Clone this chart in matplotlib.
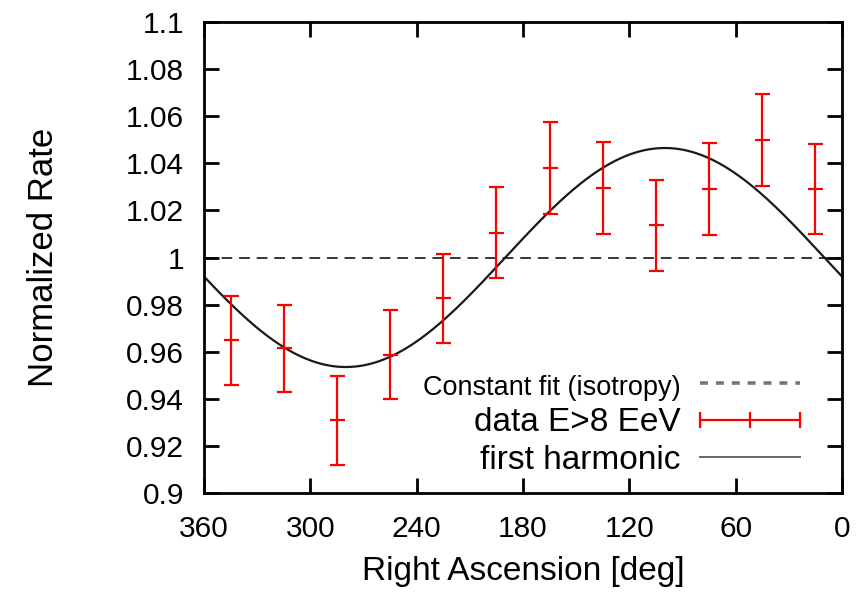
import numpy as np
from matplotlib import pyplot as plt
from matplotlib.lines import Line2D
from matplotlib.ticker import FormatStrFormatter, MultipleLocator

plt.rcParams['font.family'] = ['Liberation Sans', 'DejaVu Sans']

# Right ascension bin centres [deg] and normalized rates
ra_bins = [345, 315, 285, 255, 225, 195, 165, 135, 105, 75, 45, 15]
rate = [0.9648, 0.9614, 0.9308, 0.9588, 0.9826, 1.0106,
        1.0380, 1.0296, 1.0136, 1.0292, 1.0500, 1.0290]
rate_err = [0.0190, 0.0185, 0.0190, 0.0190, 0.0190, 0.0192,
            0.0195, 0.0195, 0.0195, 0.0195, 0.0195, 0.0192]

# first harmonic fit parameters
harmonic_amplitude = 0.0465
harmonic_phase = 100.0

isotropy_level = 1.0

fig = plt.figure(figsize=(8.58, 6.03), dpi=100)
ax = fig.add_axes([0.2378, 0.1824, 0.7436, 0.7811])

# constant fit
ax.axhline(isotropy_level, color='black', lw=1.1, dashes=(7, 4.5), zorder=1)

# first harmonic curve
alpha = np.linspace(0, 360, 721)
ax.plot(alpha, isotropy_level + harmonic_amplitude * np.cos(np.deg2rad(alpha - harmonic_phase)),
        color='#1a1a1a', lw=1.6, zorder=2)

# data with error bars
ax.errorbar(ra_bins, rate, yerr=rate_err, fmt='none', ecolor='#ff0000',
            elinewidth=1.6, capsize=5.4, capthick=1.6, zorder=3)
ax.plot(ra_bins, rate, ls='none', marker='_', ms=10.8, mew=1.6,
        color='#ff0000', zorder=3)

ax.set_xlim(360, 0)
ax.set_ylim(0.9, 1.1)
ax.xaxis.set_major_locator(MultipleLocator(60))
ax.yaxis.set_major_locator(MultipleLocator(0.02))
ax.yaxis.set_major_formatter(FormatStrFormatter('%g'))

for s in ax.spines.values():
    s.set_linewidth(2.0)
ax.tick_params(direction='in', length=11, width=2.0, top=True, right=True,
               labelsize=21.5)
ax.tick_params(axis='y', pad=14.5)
ax.tick_params(axis='x', pad=16)

ax.set_xlabel('Right Ascension [deg]', fontsize=24)
ax.set_ylabel('Normalized Rate', fontsize=25)
ax.xaxis.set_label_coords(0.5, -0.134)
ax.yaxis.set_label_coords(-0.226, 0.5)

handles = [
    Line2D([], [], color='#777777', lw=2.6, dashes=(2.2, 2.2)),
    Line2D([], [], color='#ff0000', lw=1.6, marker='|', ms=12, mew=1.6),
    Line2D([], [], color='#666666', lw=1.4),
]
labels = ['Constant fit (isotropy)', 'data E>8 EeV', 'first harmonic']
leg = ax.legend(handles, labels, loc='lower right', bbox_to_anchor=(0.971, 0.008),
                frameon=False, markerfirst=False, numpoints=3,
                handlelength=3.6, handletextpad=0.3, labelspacing=0.2,
                fontsize=24, borderaxespad=0)
leg.get_texts()[0].set_fontsize(19.5)
for t in leg.get_texts():
    t.set_ha('right')

fig.savefig('out.png', dpi=100)
